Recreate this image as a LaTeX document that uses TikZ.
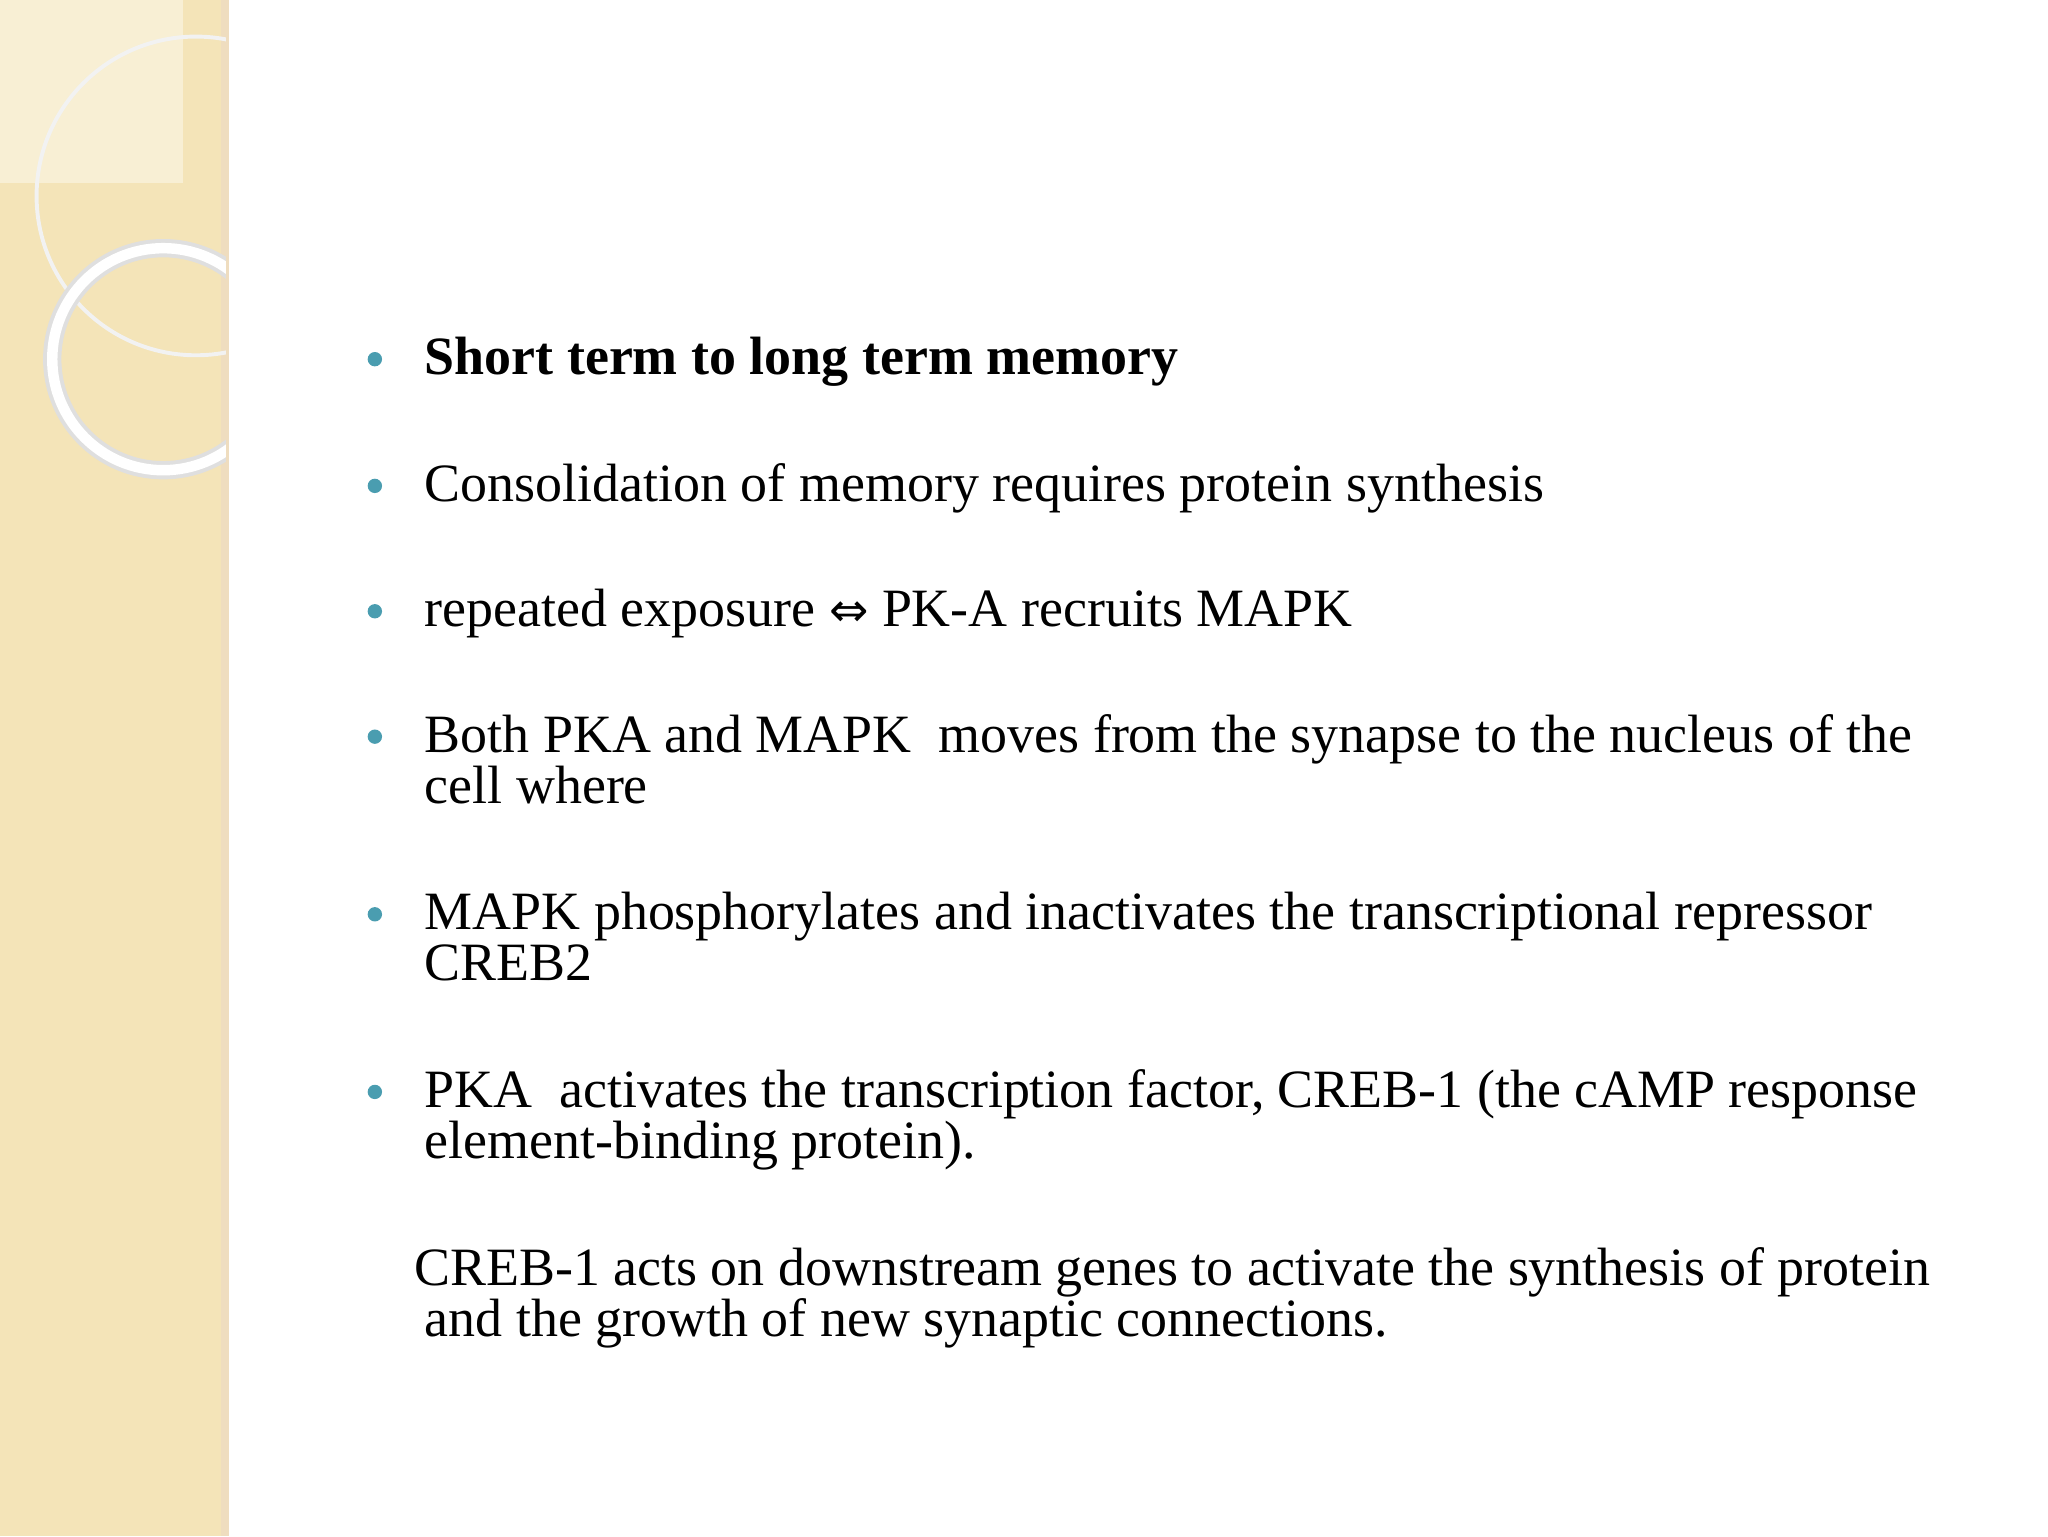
\documentclass[tikz,border=0pt]{standalone}
\usepackage{fontspec}
\setmainfont{Liberation Serif}
\newfontfamily\symf{DejaVu Sans}
\begin{document}
\begin{tikzpicture}[x=1pt,y=-1pt,
  txt/.style={anchor=base west,inner sep=0pt,font=\fontsize{41.3}{39}\selectfont},
  bul/.style={circle,fill=bulletc,inner sep=0pt,minimum size=11pt}]
\definecolor{bulletc}{HTML}{4A9DB0}
\definecolor{beige}{HTML}{F4E4B8}
\useasboundingbox (0,0) rectangle (1568,1176);
\fill[white] (0,0) rectangle (1568,1176);
\fill[beige] (0,0) rectangle (173,1176);
\fill[beige!60!white] (0,0) rectangle (140,140);
\fill[beige!70!brown!60] (169,0) rectangle (175,1176);
\begin{scope}
\clip (0,0) rectangle (173,1176);
\draw[white!90!gray,line width=3pt] (150,150) circle (122);
\draw[gray!25,line width=14pt] (125,275) circle (85);
\draw[white,line width=8pt] (125,275) circle (85);
\end{scope}
\foreach \n/\y in {1/287,2/384,3/480,4/576,5/712,6/848}
  \node[bul] (b\n) at (287,\y-12) {};
\node[txt] (t1) at (325,287) {\textbf{Short term to long term memory}};
\node[txt] (t2) at (325,384) {Consolidation of memory requires protein synthesis};
\node[txt] (t3) at (325,480) {repeated exposure {\symf\fontsize{36}{36}\selectfont ⇔} PK-A recruits MAPK};
\node[txt] (t4) at (325,576) {Both PKA and MAPK\ \ moves from the synapse to the nucleus of the};
\node[txt] (t4b) at (325,615) {cell where};
\node[txt] (t5) at (325,712) {MAPK phosphorylates and inactivates the transcriptional repressor};
\node[txt] (t5b) at (325,751) {CREB2};
\node[txt] (t6) at (325,848) {PKA\ \ activates the transcription factor, CREB-1 (the cAMP response};
\node[txt] (t6b) at (325,887) {element-binding protein).};
\node[txt] (t7) at (317,984) {CREB-1 acts on downstream genes to activate the synthesis of protein};
\node[txt] (t7b) at (325,1023) {and the growth of new synaptic connections.};
\end{tikzpicture}
\end{document}
